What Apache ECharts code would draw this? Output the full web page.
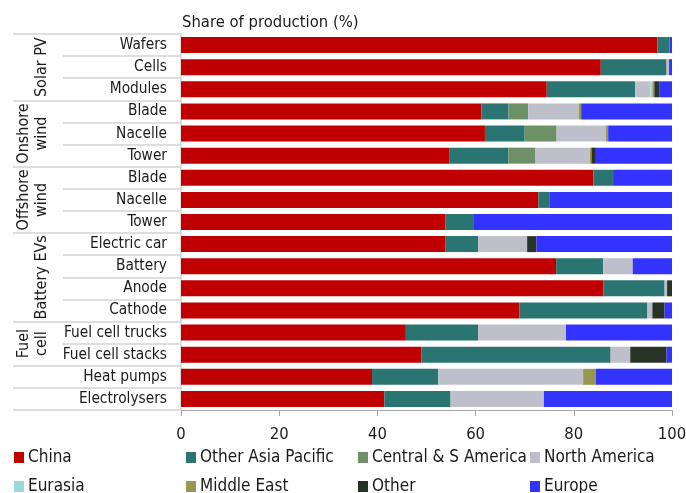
<!DOCTYPE html>
<html>
<head>
<meta charset="utf-8">
<script src="https://cdn.jsdelivr.net/npm/echarts@6/dist/echarts.min.js"></script>
<style>
  html, body { margin: 0; padding: 0; background: #fff; }
  #chart { width: 686px; height: 493px; }
</style>
</head>
<body>
<div id="chart"></div>
<script>
// Rows, top to bottom (keys are unique; the label shown is after the "|")
const categories = [
  'pv|Wafers', 'pv|Cells', 'pv|Modules',
  'on|Blade', 'on|Nacelle', 'on|Tower',
  'off|Blade', 'off|Nacelle', 'off|Tower',
  'ev|Electric car', 'ev|Battery', 'ev|Anode', 'ev|Cathode',
  'fc|Fuel cell trucks', 'fc|Fuel cell stacks',
  'hp|Heat pumps', 'el|Electrolysers'
];

// Share of production (%) by region, one value per row above
const china            = [97.0, 85.5, 74.5, 61.2, 61.9, 54.6, 84.0, 72.8, 53.9, 53.9, 76.4, 86.0, 68.9, 45.8, 49.0, 38.9, 41.4];
const otherAsiaPacific = [ 2.5, 13.4, 18.0,  5.5,  8.1, 12.1,  4.0,  2.2,  5.6,  6.6,  9.6, 12.5, 26.1, 14.7, 38.5, 13.5, 13.5];
const centralSAmerica  = [ 0,    0,    0,    4.0,  6.5,  5.5,  0,    0,    0,    0,    0,    0,    0,    0,    0,    0,    0  ];
const northAmerica     = [ 0,    0.5,  3.1, 10.3, 10.0, 11.1,  0,    0,    0,   10.0,  6.0,  0.5,  1.0, 17.9,  4.0, 29.5, 19.0];
const eurasia          = [ 0,    0,    0.4,  0,    0,    0,    0,    0,    0,    0,    0,    0,    0,    0,    0,    0,    0  ];
const middleEast       = [ 0,    0,    0.4,  0.5,  0.5,  0.3,  0,    0,    0,    0,    0,    0,    0,    0,    0,    2.6,  0  ];
const other            = [ 0,    0,    1.1,  0,    0,    0.9,  0,    0,    0,    1.9,  0,    1.0,  2.5,  0,    7.4,  0,    0  ];
const europe           = [ 0.5,  0.6,  2.5, 18.5, 13.0, 15.5, 12.0, 25.0, 40.5, 27.6,  8.0,  0,    1.5, 21.6,  1.1, 15.5, 26.1];

const seriesNames = ['China', 'Other Asia Pacific', 'Central & S America', 'North America',
                     'Eurasia', 'Middle East', 'Other', 'Europe'];
const seriesData = [china, otherAsiaPacific, centralSAmerica, northAmerica,
                    eurasia, middleEast, other, europe];
const seriesColors = ['#c00000', '#2a7572', '#6e9066', '#bfbfcc',
                      '#99d9dc', '#97974f', '#283327', '#3333ff'];

// Sector groups: first row index, last row index, label
const groups = [
  { from: 0,  to: 2,  text: 'Solar PV' },
  { from: 3,  to: 5,  text: 'Onshore\nwind' },
  { from: 6,  to: 8,  text: 'Offshore\nwind' },
  { from: 9,  to: 12, text: 'Battery EVs' },
  { from: 13, to: 14, text: 'Fuel\ncell' }
];
const groupStarts = [0, 3, 6, 9, 13, 15, 16];

const xTicks = [0, 20, 40, 60, 80, 100];

const FONT = '"DejaVu Sans Condensed", "DejaVu Sans", sans-serif';
const TEXT = '#1a1a1a';
const RULE = '#d3d3d3';

const chart = echarts.init(document.getElementById('chart'), null, { renderer: 'canvas' });

const legendPos = [
  [14, 449], [186, 449], [358, 449], [530, 449],
  [14, 478], [186, 478], [358, 478], [530, 478]
];

const option = {
  animation: false,
  textStyle: { fontFamily: FONT },
  title: {
    text: 'Share of production (%)',
    left: 177, top: 9,
    textStyle: { fontFamily: FONT, fontSize: 16.5, fontWeight: 'normal', color: TEXT }
  },
  grid: {
    left: 181, right: 14, top: 34, bottom: 83,
    containLabel: false, outerBoundsMode: 'none'
  },
  xAxis: {
    type: 'value', min: xTicks[0], max: xTicks[xTicks.length - 1], interval: 20,
    axisLine: { show: true, lineStyle: { color: '#a8a8a8', width: 1 } },
    axisTick: { show: true, length: 6, lineStyle: { color: '#a8a8a8' } },
    axisLabel: { fontFamily: FONT, fontSize: 16.5, color: TEXT, margin: 16 },
    splitLine: { show: false }
  },
  yAxis: [
    {
      type: 'category', data: categories, inverse: true, position: 'left',
      axisLine: { show: true, lineStyle: { color: RULE, width: 1.5 } },
      axisTick: { show: true, interval: 0, length: 118, lineStyle: { color: RULE, width: 1.5 } },
      axisLabel: {
        fontFamily: FONT, fontSize: 15.3, color: TEXT, margin: 14,
        interval: 0,
        formatter: v => v.split('|')[1]
      }
    },
    {
      type: 'category', data: categories, inverse: true, position: 'left',
      axisLine: { show: false },
      axisTick: {
        show: true, length: 168, lineStyle: { color: RULE, width: 1.5 },
        interval: idx => groupStarts.indexOf(idx) >= 0
      },
      axisLabel: { show: false }
    }
  ],
  legend: seriesNames.map((name, i) => ({
    data: [name],
    left: legendPos[i][0], top: legendPos[i][1],
    icon: 'rect', itemWidth: 10, itemHeight: 11, itemGap: 0,
    padding: 0,
    textStyle: { fontFamily: FONT, fontSize: 17, color: TEXT, padding: [0, 0, 0, -1] },
    selectedMode: false
  })),
  series: seriesNames.map((name, i) => ({
    name: name, type: 'bar', stack: 'share', yAxisIndex: 0,
    data: seriesData[i], barWidth: 16,
    itemStyle: { color: seriesColors[i] },
    emphasis: { disabled: true }
  }))
};

chart.setOption(option);

// Rotated sector labels, centred on their group of rows
function placeGroupLabels() {
  const elements = groups.map(g => {
    const y0 = chart.convertToPixel({ yAxisIndex: 0 }, g.from);
    const y1 = chart.convertToPixel({ yAxisIndex: 0 }, g.to);
    const twoLines = g.text.indexOf('\n') >= 0;
    return {
      type: 'text',
      x: twoLines ? 33 : 42,
      y: (y0 + y1) / 2,
      rotation: Math.PI / 2,
      style: {
        text: g.text, fontFamily: FONT, fontSize: 16, fill: TEXT,
        align: 'center', verticalAlign: 'middle', lineHeight: 18
      }
    };
  });
  chart.setOption({ graphic: elements });
}
placeGroupLabels();
</script>
</body>
</html>
